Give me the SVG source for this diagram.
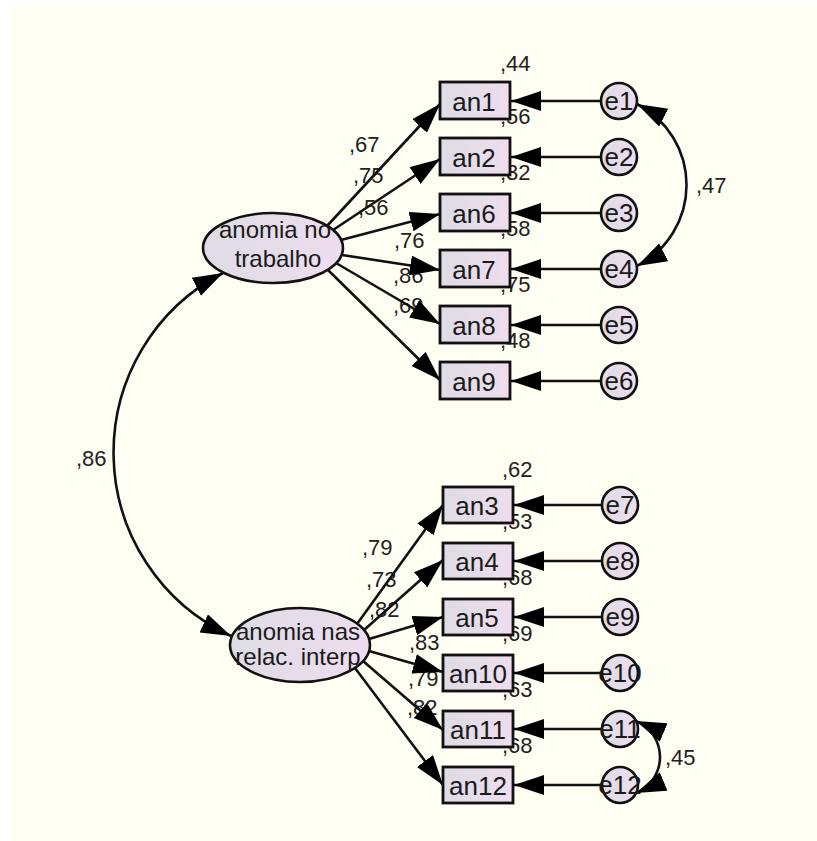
<svg xmlns="http://www.w3.org/2000/svg" width="817" height="841" viewBox="0 0 817 841">
<defs>
<linearGradient id="fillg" x1="0" y1="0" x2="1" y2="0">
<stop offset="0" stop-color="#DDDCE5"/>
<stop offset="1" stop-color="#EFDDEE"/>
</linearGradient>
<marker id="ah" markerUnits="userSpaceOnUse" markerWidth="32" markerHeight="22" refX="30" refY="10" orient="auto-start-reverse" viewBox="0 0 32 22">
<path d="M0,0 L30,10 L0,20 z" fill="#000"/>
</marker>
<style>
.bx{fill:url(#fillg);stroke:#111;stroke-width:2.8}
.lt{fill:url(#fillg);stroke:#111;stroke-width:2.6}
.ln{fill:none;stroke:#111;stroke-width:2.6}
.t{font-family:"Liberation Sans",Arial,sans-serif;fill:#1a1a1a}
.bt{font-size:26px;text-anchor:middle}
.et{font-size:24px;text-anchor:middle}
.ct{font-size:26px;text-anchor:middle}
.nt{font-size:22px;fill:#222}
</style>
</defs>
<rect x="0" y="0" width="817" height="841" fill="#ffffff"/>
<rect x="11" y="5" width="806" height="836" fill="#FFFEF2"/>

<g id="labels">
<text class="t nt" x="500" y="71">,44</text>
<text class="t nt" x="500" y="124">,56</text>
<text class="t nt" x="500" y="180">,32</text>
<text class="t nt" x="500" y="236">,58</text>
<text class="t nt" x="500" y="292">,75</text>
<text class="t nt" x="500" y="348">,48</text>
<text class="t nt" x="502" y="477">,62</text>
<text class="t nt" x="502" y="529">,53</text>
<text class="t nt" x="502" y="585">,68</text>
<text class="t nt" x="502" y="641">,69</text>
<text class="t nt" x="502" y="697">,63</text>
<text class="t nt" x="502" y="753">,68</text>
<text class="t nt" x="349" y="152">,67</text>
<text class="t nt" x="353" y="183">,75</text>
<text class="t nt" x="358" y="215">,56</text>
<text class="t nt" x="394" y="248">,76</text>
<text class="t nt" x="393" y="283">,86</text>
<text class="t nt" x="393" y="313">,69</text>
<text class="t nt" x="362" y="555">,79</text>
<text class="t nt" x="366" y="587">,73</text>
<text class="t nt" x="369" y="617">,82</text>
<text class="t nt" x="409" y="650">,83</text>
<text class="t nt" x="408" y="686">,79</text>
<text class="t nt" x="407" y="715">,82</text>
<text class="t nt" x="696" y="193">,47</text>
<text class="t nt" x="665" y="765">,45</text>
<text class="t nt" x="76" y="466">,86</text>
</g>

<g id="connectors">
<path class="ln" d="M327,226 L440,104" marker-end="url(#ah)"/>
<path class="ln" d="M333,230 L440,159" marker-end="url(#ah)"/>
<path class="ln" d="M341,240 L440,214" marker-end="url(#ah)"/>
<path class="ln" d="M342,255 L440,270" marker-end="url(#ah)"/>
<path class="ln" d="M336,263 L440,324" marker-end="url(#ah)"/>
<path class="ln" d="M328,270 L440,380" marker-end="url(#ah)"/>
<path class="ln" d="M357,624 L443,505" marker-end="url(#ah)"/>
<path class="ln" d="M364,630 L443,560" marker-end="url(#ah)"/>
<path class="ln" d="M369,639 L443,617" marker-end="url(#ah)"/>
<path class="ln" d="M369,651 L443,672" marker-end="url(#ah)"/>
<path class="ln" d="M363,661 L443,730" marker-end="url(#ah)"/>
<path class="ln" d="M355,668 L443,785" marker-end="url(#ah)"/>
<path class="ln" d="M601,101 L511,101" marker-end="url(#ah)"/>
<path class="ln" d="M601,157 L511,157" marker-end="url(#ah)"/>
<path class="ln" d="M601,213 L511,213" marker-end="url(#ah)"/>
<path class="ln" d="M601,269 L511,269" marker-end="url(#ah)"/>
<path class="ln" d="M601,325 L511,325" marker-end="url(#ah)"/>
<path class="ln" d="M601,381 L511,381" marker-end="url(#ah)"/>
<path class="ln" d="M602,505 L514,505" marker-end="url(#ah)"/>
<path class="ln" d="M602,561 L514,561" marker-end="url(#ah)"/>
<path class="ln" d="M602,617 L514,617" marker-end="url(#ah)"/>
<path class="ln" d="M602,673 L514,673" marker-end="url(#ah)"/>
<path class="ln" d="M602,729 L514,729" marker-end="url(#ah)"/>
<path class="ln" d="M602,785 L514,785" marker-end="url(#ah)"/>
<path class="ln" d="M223,273 A202,202 0 0 0 231,636" marker-start="url(#ah)" marker-end="url(#ah)"/>
<path class="ln" d="M637,104 A91,91 0 0 1 637,266" marker-start="url(#ah)" marker-end="url(#ah)"/>
<path class="ln" d="M636,721 A39,39 0 0 1 636,793" marker-start="url(#ah)" marker-end="url(#ah)"/>
</g>

<g id="f1"><ellipse class="lt" cx="273" cy="248" rx="70" ry="35"/><text class="t et" x="275" y="238">anomia no</text><text class="t et" x="278" y="267">trabalho</text></g>
<g id="f2"><ellipse class="lt" cx="300" cy="645" rx="70" ry="37"/><text class="t et" x="298" y="640">anomia nas</text><text class="t et" x="298" y="665">relac. interp</text></g>

<g id="an1"><rect class="bx" x="440" y="82" width="70" height="37"/><text class="t bt" x="474" y="111">an1</text></g>
<g id="an2"><rect class="bx" x="440" y="138" width="70" height="37"/><text class="t bt" x="474" y="167">an2</text></g>
<g id="an6"><rect class="bx" x="440" y="194" width="70" height="37"/><text class="t bt" x="474" y="223">an6</text></g>
<g id="an7"><rect class="bx" x="440" y="250" width="70" height="37"/><text class="t bt" x="474" y="279">an7</text></g>
<g id="an8"><rect class="bx" x="440" y="306" width="70" height="37"/><text class="t bt" x="474" y="335">an8</text></g>
<g id="an9"><rect class="bx" x="440" y="362" width="70" height="37"/><text class="t bt" x="474" y="391">an9</text></g>

<g id="an3"><rect class="bx" x="443" y="487" width="70" height="36"/><text class="t bt" x="477" y="515">an3</text></g>
<g id="an4"><rect class="bx" x="443" y="543" width="70" height="36"/><text class="t bt" x="477" y="571">an4</text></g>
<g id="an5"><rect class="bx" x="443" y="599" width="70" height="36"/><text class="t bt" x="477" y="627">an5</text></g>
<g id="an10"><rect class="bx" x="443" y="655" width="70" height="36"/><text class="t bt" x="478" y="683">an10</text></g>
<g id="an11"><rect class="bx" x="443" y="711" width="70" height="36"/><text class="t bt" x="478" y="739">an11</text></g>
<g id="an12"><rect class="bx" x="443" y="767" width="70" height="36"/><text class="t bt" x="478" y="795">an12</text></g>

<g id="e1"><circle class="lt" cx="619" cy="101" r="18"/><text class="t ct" x="619" y="110">e1</text></g>
<g id="e2"><circle class="lt" cx="619" cy="157" r="18"/><text class="t ct" x="619" y="166">e2</text></g>
<g id="e3"><circle class="lt" cx="619" cy="213" r="18"/><text class="t ct" x="619" y="222">e3</text></g>
<g id="e4"><circle class="lt" cx="619" cy="269" r="18"/><text class="t ct" x="619" y="278">e4</text></g>
<g id="e5"><circle class="lt" cx="619" cy="325" r="18"/><text class="t ct" x="619" y="334">e5</text></g>
<g id="e6"><circle class="lt" cx="619" cy="381" r="18"/><text class="t ct" x="619" y="390">e6</text></g>
<g id="e7"><circle class="lt" cx="620" cy="505" r="18"/><text class="t ct" x="620" y="514">e7</text></g>
<g id="e8"><circle class="lt" cx="620" cy="561" r="18"/><text class="t ct" x="620" y="570">e8</text></g>
<g id="e9"><circle class="lt" cx="620" cy="617" r="18"/><text class="t ct" x="620" y="626">e9</text></g>
<g id="e10"><circle class="lt" cx="620" cy="673" r="18"/><text class="t ct" x="620" y="682">e10</text></g>
<g id="e11"><circle class="lt" cx="620" cy="729" r="18"/><text class="t ct" x="620" y="738">e11</text></g>
<g id="e12"><circle class="lt" cx="620" cy="785" r="18"/><text class="t ct" x="620" y="794">e12</text></g>
</svg>
